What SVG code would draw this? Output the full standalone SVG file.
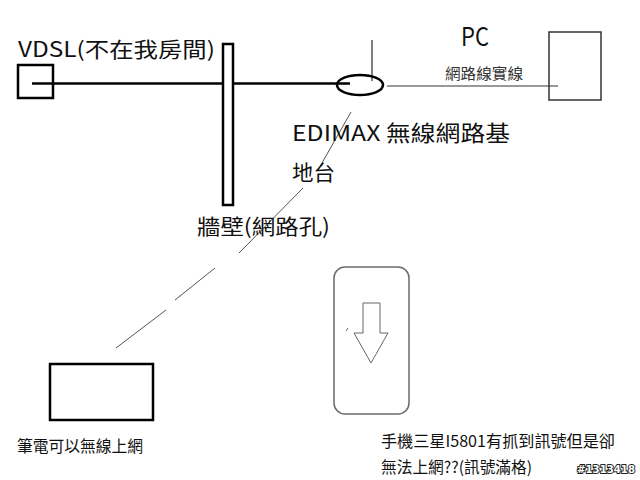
<svg xmlns="http://www.w3.org/2000/svg" width="640" height="480" viewBox="0 0 640 480">
<style>
text{font-family:"Noto Sans CJK TC","Noto Sans",sans-serif;fill:#111}
.blk{fill:#fff;stroke:#000;stroke-width:2.5}
.thin{stroke:#555;stroke-width:1;fill:none}
.gray{fill:#fff;stroke:#6a6a6a;stroke-width:1.5}
</style>
<rect width="640" height="480" fill="#fff"/>
<g id="connectors">
<line x1="32" y1="83.5" x2="350" y2="83.5" stroke="#000" stroke-width="2.5"/>
<line x1="387" y1="86" x2="558" y2="86" stroke="#999" stroke-width="2"/>
<line x1="372" y1="40" x2="372" y2="81" stroke="#000" stroke-width="1"/>
<line class="thin" x1="351" y1="112" x2="318" y2="170"/>
<line class="thin" x1="303" y1="188" x2="239" y2="253"/>
<line class="thin" x1="215" y1="268" x2="175" y2="300"/>
<line class="thin" x1="166" y1="310" x2="116" y2="348"/>
</g>
<g id="vdsl">
<rect x="18" y="65" width="35" height="33" fill="none" stroke="#000" stroke-width="2.5"/>
<text x="18" y="57" font-size="21" textLength="197" lengthAdjust="spacingAndGlyphs">VDSL(不在我房間)</text>
</g>
<g id="wall">
<rect class="blk" x="223" y="44" width="10" height="161"/>
<text x="197" y="234" font-size="21" textLength="133" lengthAdjust="spacingAndGlyphs">牆壁(網路孔)</text>
</g>
<g id="router">
<ellipse cx="360" cy="85" rx="23" ry="10" fill="none" stroke="#000" stroke-width="2.5"/>
<text x="292" y="141" font-size="22" textLength="218" lengthAdjust="spacingAndGlyphs">EDIMAX 無線網路基</text>
<text x="292" y="180" font-size="21" textLength="43" lengthAdjust="spacingAndGlyphs">地台</text>
</g>
<g id="pc">
<rect x="549" y="32" width="52" height="68" fill="none" stroke="#333" stroke-width="1.5"/>
<text x="461" y="46" font-size="25" textLength="28" lengthAdjust="spacingAndGlyphs">PC</text>
<text x="445" y="79" font-size="15" style="fill:#333" textLength="78" lengthAdjust="spacingAndGlyphs">網路線實線</text>
</g>
<g id="laptop">
<rect class="blk" x="50" y="364" width="103" height="56"/>
<text x="17" y="452" font-size="16" textLength="126" lengthAdjust="spacingAndGlyphs">筆電可以無線上網</text>
</g>
<g id="phone">
<rect class="gray" x="334" y="267" width="75" height="147" rx="11"/>
<polygon points="363,303 380,303 380,333 388,333 371,363 354,333 363,333" fill="#fff" stroke="#666" stroke-width="1"/>
<line x1="346" y1="331" x2="348" y2="328" stroke="#666" stroke-width="1"/>
<text x="381" y="447" font-size="16" textLength="234" lengthAdjust="spacingAndGlyphs">手機三星I5801有抓到訊號但是卻</text>
<text x="381" y="473" font-size="16" textLength="151" lengthAdjust="spacingAndGlyphs">無法上網??(訊號滿格)</text>
</g>
<text x="577" y="473" font-size="11" font-weight="bold" style="font-family:'DejaVu Sans',sans-serif;fill:#fff;stroke:#222;stroke-width:2;paint-order:stroke" textLength="58" lengthAdjust="spacingAndGlyphs">#1313418</text>
</svg>
